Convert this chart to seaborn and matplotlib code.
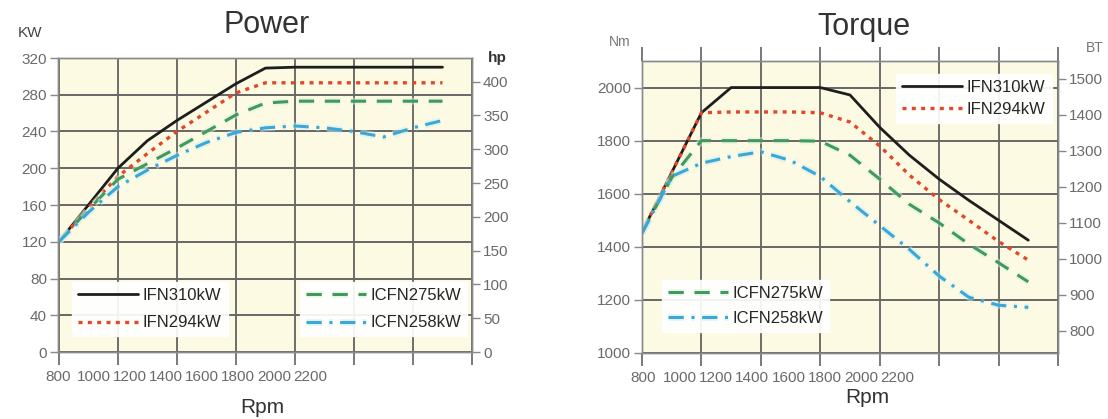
import numpy as np
import pandas as pd
import matplotlib
matplotlib.use("Agg")
import matplotlib.pyplot as plt
import matplotlib.patheffects as pe
import seaborn as sns

# ---------------- data ----------------
rpm = [800, 900, 1000, 1100, 1200, 1300, 1400, 1500, 1600, 1700, 1800, 1900, 2000, 2100]
series_names = ["IFN310kW", "IFN294kW", "ICFN275kW", "ICFN258kW"]

power_ifn310 = [120, 160, 200, 230, 252, 272, 292, 309, 310, 310, 310, 310, 310, 310]
power_ifn294 = [120, 157, 191, 216, 240, 261, 282, 293, 293, 293, 293, 293, 293, 293]
power_icfn275 = [120, 155, 188, 205, 222, 240, 258, 271, 273, 273, 273, 273, 273, 273]
power_icfn258 = [120, 152, 180, 198, 214, 228, 239, 244, 246, 244, 240, 234, 244, 252]

torque_ifn310 = [1455, 1680, 1905, 2000, 2000, 2000, 2000, 1972, 1850, 1745, 1655, 1575, 1500, 1425]
torque_ifn294 = [1455, 1680, 1905, 1908, 1908, 1908, 1905, 1870, 1780, 1670, 1578, 1500, 1420, 1350]
torque_icfn275 = [1455, 1660, 1800, 1800, 1800, 1800, 1798, 1745, 1655, 1560, 1490, 1410, 1340, 1268]
torque_icfn258 = [1450, 1665, 1715, 1740, 1758, 1725, 1665, 1570, 1480, 1390, 1290, 1210, 1180, 1172]

x_tick_labels = ["800", "1000", "1200", "1400", "1600", "1800", "2000", "2200"]
kw_ticks = [0, 40, 80, 120, 160, 200, 240, 280, 320]
hp_ticks = [0, 50, 100, 150, 200, 250, 300, 350, 400]
nm_ticks = [1000, 1200, 1400, 1600, 1800, 2000]
lbft_ticks = [800, 900, 1000, 1100, 1200, 1300, 1400, 1500]

KW_PER_HP = 0.7355
LBFT_PER_NM = 0.7376

# ---------------- style ----------------
sns.set_style("white")
plt.rcParams["font.family"] = ["Liberation Sans", "DejaVu Sans"]

W, H = 1108, 419
fig = plt.figure(figsize=(W / 100, H / 100), dpi=100)
fig.patch.set_facecolor("white")

colors = ["#1e1e1e", "#e2472a", "#3f9a5c", "#3aa8d6"]
styles = ["-", (0, (1.2, 1.6)), (0, (5, 3.5)), (0, (5, 2.5, 1, 2.5))]
widths = [2.0, 2.4, 2.2, 2.2]
halos = [None, None, "#dcefe0", "#cdebf6"]

BG = "#fcfae2"
GRID = "#555555"
TICKC = "#6a6a6a"
GRID_X = np.arange(800, 2201, 200)


def add_axes(x0, y0, x1, y1):
    return fig.add_axes([x0 / W, 1 - y1 / H, (x1 - x0) / W, (y1 - y0) / H])


def draw(ax, values):
    for vals, name, c, ls, lw, halo in zip(values, series_names, colors, styles, widths, halos):
        df = pd.DataFrame({"rpm": rpm, "val": vals})
        sns.lineplot(data=df, x="rpm", y="val", ax=ax, color=c, linestyle=ls,
                     lw=lw, legend=False)
        line = ax.get_lines()[-1]
        line.set_label(name)
        if halo is not None:
            line.set_path_effects([pe.Stroke(linewidth=5, foreground=halo, alpha=0.5),
                                   pe.Normal()])
    return ax.get_lines()


def style_axes(ax, ylim, yticks, label_start):
    ax.set_facecolor(BG)
    ax.set_axisbelow(True)
    ax.set_xlim(800, 2200)
    ax.set_ylim(*ylim)
    ax.set_xlabel("")
    ax.set_ylabel("")
    # squeezed tick labels as in the original artwork
    label_pos = [label_start + 122 * i for i in range(len(x_tick_labels))]
    ax.set_xticks(label_pos)
    ax.set_xticklabels(x_tick_labels)
    ax.set_xticks(GRID_X, minor=True)
    ax.tick_params(axis="x", which="major", bottom=True, top=False, length=0, pad=13,
                   labelsize=11, labelcolor=TICKC)
    ax.tick_params(axis="x", which="minor", bottom=True, length=9,
                   width=1.1, color=GRID, direction="out")
    ax.set_yticks(yticks)
    ax.tick_params(axis="y", which="major", left=True, length=6, width=1,
                   color="#888888", direction="out", labelsize=11,
                   labelcolor=TICKC, pad=2)
    ax.grid(False)
    ax.grid(which="minor", axis="x", color=GRID, lw=1.2)
    ax.grid(which="major", axis="y", color="#666666", lw=1.4)
    for s in ax.spines.values():
        s.set_color("#8a8a8a")
        s.set_linewidth(1.0)


def style_twin(axr, ylim, yticks):
    axr.set_ylim(*ylim)
    axr.set_yticks(yticks)
    axr.grid(False)
    axr.tick_params(axis="y", right=True, length=6, width=1, color="#888888",
                    direction="out", labelsize=11, labelcolor=TICKC, pad=2)
    for s in axr.spines.values():
        s.set_color("#8a8a8a")
        s.set_linewidth(1.0)


def legend(ax, handles, x, y, spacing):
    leg = ax.legend(handles=handles, labels=[h.get_label() for h in handles],
                    loc="upper left", bbox_to_anchor=(x / W, 1 - y / H),
                    bbox_transform=fig.transFigure, frameon=True, fancybox=False,
                    framealpha=0.92, edgecolor="white", facecolor="white",
                    fontsize=12, handlelength=3.6, handletextpad=0.3,
                    labelspacing=spacing, borderpad=0.35, borderaxespad=0)
    for t in leg.get_texts():
        t.set_color("#262626")
    leg.set_zorder(10)
    return leg


# ---------------- Power ----------------
axP = add_axes(58, 58, 472, 352)
linesP = draw(axP, [power_ifn310, power_ifn294, power_icfn275, power_icfn258])
axP2 = axP.twinx()
style_axes(axP, (0, 320), kw_ticks, 797)
style_twin(axP2, (0, 320 / KW_PER_HP), hp_ticks)
l1 = legend(axP, linesP[0:2], 72, 282, 0.75)
axP.add_artist(l1)
legend(axP, linesP[2:4], 300, 282, 0.75)

fig.text(267 / W, 1 - 33 / H, "Power", fontsize=22, color="#333333",
         ha="center", va="baseline")
fig.text(30 / W, 1 - 33 / H, "KW", fontsize=11, color="#444444", ha="center", va="center")
fig.text(497 / W, 1 - 58 / H, "hp", fontsize=11, color="#333333", ha="center",
         va="center", fontweight="bold")
fig.text(262 / W, 1 - 407 / H, "Rpm", fontsize=15, color="#333333", ha="center", va="center")

# ---------------- Torque ----------------
axT = add_axes(642, 61, 1058, 353)
linesT = draw(axT, [torque_ifn310, torque_ifn294, torque_icfn275, torque_icfn258])
axT2 = axT.twinx()
style_axes(axT, (1000, 2100), nm_ticks, 805)
style_twin(axT2, (1000 * LBFT_PER_NM, 2100 * LBFT_PER_NM), lbft_ticks)
# outward tick marks along the top edge of the torque panel
secT = axT.secondary_xaxis("top")
secT.set_xticks(GRID_X)
secT.tick_params(axis="x", which="major", top=True, labeltop=False, length=10,
                 width=1.1, color=GRID, direction="out")
secT.spines["top"].set_visible(False)
l3 = legend(axT, linesT[0:2], 896, 74, 0.45)
axT.add_artist(l3)
legend(axT, linesT[2:4], 662, 280, 0.6)

fig.text(864 / W, 1 - 35 / H, "Torque", fontsize=22, color="#333333",
         ha="center", va="baseline")
fig.text(620 / W, 1 - 42 / H, "Nm", fontsize=10, color="#777777", ha="center", va="center")
fig.text(1095 / W, 1 - 48 / H, "BT", fontsize=10, color="#777777", ha="center", va="center")
fig.text(867 / W, 1 - 397 / H, "Rpm", fontsize=15, color="#333333", ha="center", va="center")

fig.savefig("out.png", dpi=100, facecolor="white")
